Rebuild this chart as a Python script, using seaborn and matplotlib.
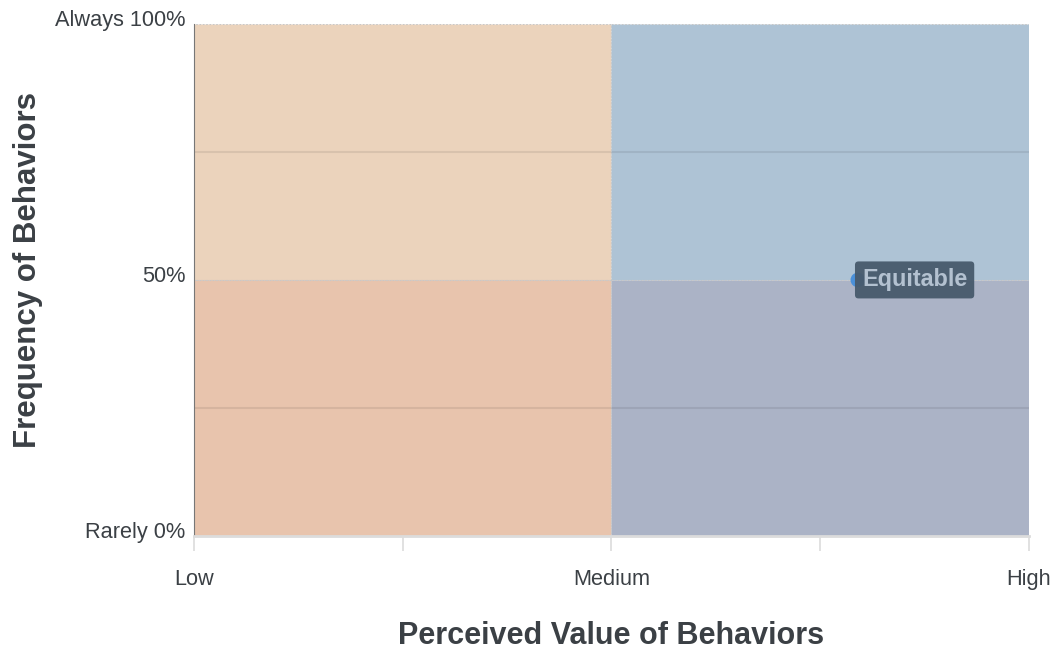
import matplotlib
matplotlib.use("Agg")
import matplotlib.pyplot as plt
import matplotlib.patches as mpatches
import matplotlib.transforms as mtrans
import seaborn as sns
import pandas as pd

# quadrant definitions: x range, y range, colour
quad_x0 = [0.0, 0.0, 0.5, 0.5]
quad_x1 = [0.5, 0.5, 1.0, 1.0]
quad_y0 = [50, 0, 50, 0]
quad_y1 = [100, 50, 100, 50]
quad_colors = ["#ebd3bc", "#e8c4ad", "#aec3d5", "#abb3c6"]

# the single point
point_names = ["Equitable"]
point_x = [0.795]
point_y = [50]

x_ticks = [0, 0.25, 0.5, 0.75, 1.0]
x_labels = ["Low", "", "Medium", "", "High"]
y_ticks = [0, 50, 100]
y_labels = ["Rarely 0%", "50%", "Always 100%"]
grid_y = [25, 75]

sns.set_theme(style="white")
plt.rcParams['font.family'] = ['Liberation Sans', 'DejaVu Sans']
text_col = "#3b4045"

fig = plt.figure(figsize=(10.57, 6.51), dpi=100)
ax = fig.add_axes([0.1835, 0.177, 0.79, 0.786])

for x0, x1, y0, y1, c in zip(quad_x0, quad_x1, quad_y0, quad_y1, quad_colors):
    ax.add_patch(mpatches.Rectangle((x0, y0), x1 - x0, y1 - y0, facecolor=c,
                                    edgecolor="#c8c8c8", linewidth=0.8,
                                    linestyle=(0, (1.5, 1.5)), zorder=1))

for gy in grid_y:
    ax.axhline(gy, color="black", alpha=0.08, linewidth=1.5, zorder=2)

df = pd.DataFrame({"name": point_names, "x": point_x, "y": point_y})
sns.scatterplot(data=df, x="x", y="y", s=110, color="#4a90d9", edgecolor="none",
                ax=ax, zorder=3, legend=False)
for _, r in df.iterrows():
    ax.annotate(r["name"], (r["x"], r["y"]), xytext=(3, 0), textcoords="offset points",
                ha="left", va="center", fontsize=16.8, fontweight="bold", color="#b3c1d0",
                bbox=dict(boxstyle="round,pad=0.3,rounding_size=0.15",
                          facecolor="#475a6c", edgecolor="none", alpha=0.95),
                zorder=4)

ax.set_xlim(0, 1)
ax.set_ylim(0, 100)
ax.set_xticks(x_ticks)
ax.set_xticklabels(x_labels)
ax.set_yticks(y_ticks)
ax.set_yticklabels(y_labels)
ax.tick_params(axis="x", length=11, width=1.2, color="#dcdcdc", pad=13,
               labelsize=15.7, labelcolor=text_col, bottom=True)
ax.tick_params(axis="y", length=0, pad=6, labelsize=15.7, labelcolor=text_col)
# y labels sit a little above their tick, as in the original
off = mtrans.ScaledTranslation(0, 2.5 / 72, fig.dpi_scale_trans)
for lbl in ax.get_yticklabels():
    lbl.set_verticalalignment("center")
    lbl.set_transform(lbl.get_transform() + off)

for s in ["top", "right"]:
    ax.spines[s].set_visible(False)
ax.spines["bottom"].set_color("#dcdcdc")
ax.spines["bottom"].set_linewidth(2)
ax.spines["left"].set_color("#777777")
ax.spines["left"].set_linewidth(0.8)

ax.set_xlabel("Perceived Value of Behaviors", fontsize=22, fontweight="bold",
              color=text_col, labelpad=22)
ax.set_ylabel("Frequency of Behaviors", fontsize=22.5, fontweight="bold",
              color=text_col)
ax.yaxis.set_label_coords(-0.199, 0.52)
ax.yaxis.label.set_verticalalignment("center")

fig.savefig("out.png", dpi=100)
